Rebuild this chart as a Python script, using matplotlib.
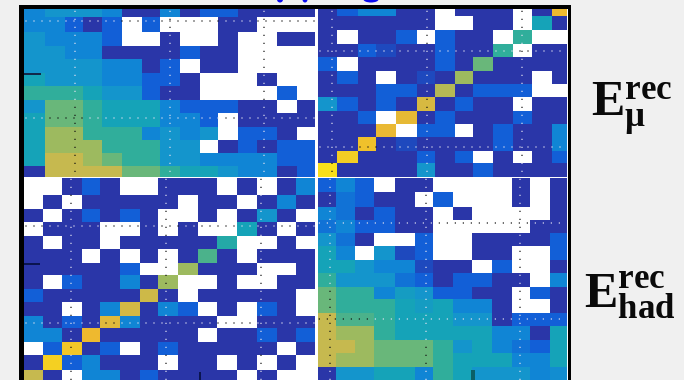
import numpy as np
import matplotlib
matplotlib.use("Agg")
import matplotlib.pyplot as plt
from matplotlib.colors import LinearSegmentedColormap
from matplotlib.patches import Rectangle, Ellipse

plt.rcParams["mathtext.fontset"] = "custom"
plt.rcParams["mathtext.bf"] = "Liberation Serif:bold"
plt.rcParams["mathtext.rm"] = "Liberation Serif:bold"
plt.rcParams["mathtext.it"] = "Liberation Serif:bold"

W, H = 684, 380
n = np.nan
top_left = [
 [2,3,3,3,2,0,0,2,0,1,1,0,0,0,0],
 [2,2,1,0,1,n,1,n,n,n,0,0,n,n,n],
 [3,2,2,2,1,n,n,0,n,n,0,n,n,0,0],
 [3,3,2,2,0,0,0,0,1,0,0,n,n,n,n],
 [3,3,3,3,2,2,0,1,n,0,0,n,n,n,n],
 [4,3,3,3,2,2,1,1,0,n,n,n,0,n,n],
 [5,5,5,4,3,3,1,0,0,n,n,n,n,1,n],
 [3,6,6,5,4,4,4,2,1,1,1,0,0,n,0],
 [4,6,6,5,4,4,4,2,2,1,n,0,0,0,0],
 [4,7,7,5,5,5,2,3,2,3,n,1,1,0,n],
 [4,7,7,7,5,5,5,3,3,n,0,1,0,1,1],
 [4,8,8,7,6,5,5,3,3,2,2,2,2,1,1],
 [0,8,8,8,8,6,6,5,4,4,3,2,2,0,1],
]
top_right = [
 [0,1,2,2,0,0,n,0,0,0,n,0,9],
 [0,0,0,0,0,0,n,n,0,0,n,4,0],
 [0,n,0,0,1,n,1,0,0,n,5,n,n],
 [0,0,1,.5,0,0,1,0,0,5,n,0,0],
 [1,n,0,0,0,0,1,0,6,0,0,0,0],
 [0,1,0,n,0,.5,0,7,0,0,0,n,0],
 [0,0,0,1,1,0,7.6,0,1,1,1,n,n],
 [3,1,0,1,0,8.4,0,1,0,0,n,0,0],
 [0,0,1,n,8.8,0,1,0,0,0,1,0,0],
 [0,0,0,8.9,n,1,1,n,0,1,0,0,2],
 [0,0,9.2,0,.5,0,0,0,0,1,0,0,2],
 [0,9.5,0,0,0,1,0,1,n,0,n,0,1],
 [10,0,0,0,0,3,0,0,1,0,0,0,0],
]
bottom_left = [
 [n,n,0,1,0,n,n,0,0,0,n,0,n,0,2],
 [n,0,n,0,0,0,0,0,n,0,0,n,0,2,0],
 [0,n,0,1,0,1,0,n,n,0,n,0,3,0,n],
 [n,0,0,0,n,n,0,n,0,n,n,4,0,n,0],
 [0,n,0,0,n,0,0,0,0,0,4.6,n,n,0,n],
 [0,0,0,n,0,n,0,n,0,5.5,0,n,0,0,0],
 [0,0,0,0,0,1,n,n,7,0,0,0,n,n,0],
 [0,n,1,0,0,2,0,7,n,n,0,n,n,0,0],
 [1,0,0,0,0,0,8.2,0,n,0,0,0,0,0,n],
 [0,0,n,0,2,8.3,0,2,1,n,0,n,1,0,n],
 [2,0,1,0,8.6,2,0,0,0,0,n,n,0,0,0],
 [2,2,0,9,0,0,0,0,0,n,0,0,1,0,1],
 [n,1,9.3,0,1,n,0,1,0,0,0,0,0,n,0],
 [0,9.6,1,2,0,0,0,n,0,0,n,0,n,0,n],
 [8,0,n,2,2,0,1,0,0,0,0,n,0,n,n],
]
bottom_right = [
 [1,2,1,n,0,0,n,n,n,n,0,n,0],
 [0,1.5,1,0,0,n,1,n,n,n,0,n,0],
 [2,1.5,0,1,0,0,n,0,n,n,n,n,0],
 [1.5,2,1,1,0,0,n,n,n,n,n,0,0],
 [3,1.5,0,n,n,1,n,n,0,0,0,0,1],
 [4,2,n,3,.5,1,n,n,0,0,n,n,1],
 [4,4,3,2,2,.5,0,0,n,1,n,n,0],
 [5,3,3,3,1.5,1,0,1,1,0,0,n,2],
 [6,5,5,2,3.5,3,1,1,0,0,n,1,0],
 [6,5,5,5,4,3.5,4,2,2,0,n,n,0],
 [8,5.5,5.5,5,4,4,4,3,3,0,1,1,1],
 [8,7,7,5,4,4,4,4,4,2,2,0,4],
 [8,8,7,6,6,6,5,3,4,2,1.5,1,4],
 [8,7,7,6,6,6,5,4,4,4,2,2,4],
 [0,3,3,4,4,2,5,4,3,3,3,2,2.5],
]
row_labels = [r"$\mathbf{E}^{\mathbf{rec}}_{\mathbf{μ}}$", r"$\mathbf{E}^{\mathbf{rec}}_{\mathbf{had}}$"]

# cell edges of each panel, in reference pixels
def ex(v, o=0): return o + np.array(v, float) / 3
tl_x = ex([72,135,195,250,305,365,425,480,540,600,655,715,770,830,890,945])
tl_y = ex([28,52,95,137,178,220,257,300,340,380,420,460,497,530])
tr_x = ex([24,82,143,198,258,320,375,435,490,550,610,665,725,770], 310)
tr_y = ex([28,48,90,133,170,212,252,292,332,372,412,452,490,530])
bl_x = ex([72,128,185,245,300,360,420,475,535,595,650,712,770,830,888,945])
bl_y = ex([22,75,118,157,198,237,280,315,358,395,438,475,515,555,600,630], 170)
br_x = ex([22,78,135,192,255,315,368,430,485,545,605,660,720,770], 310)
br_y = ex([22,65,110,150,188,228,270,308,350,388,428,468,510,550,590,630], 170)

levels = ["#2a36a8", "#1260d8", "#1085d5", "#1596cc", "#15a3b8", "#2fae9c",
          "#6ab77a", "#9dbb60", "#c6b94f", "#eeb930", "#f9e01a"]
cmap = LinearSegmentedColormap.from_list("p", levels)

fig = plt.figure(figsize=(W/100, H/100), dpi=100, facecolor="#f0f0f0")
ax = fig.add_axes([0, 0, 1, 1])
ax.set_xlim(0, W); ax.set_ylim(H, 0); ax.axis("off")

ax.add_patch(Rectangle((19, 5), 552, 380, fc="white", ec="none", zorder=0))

def panel(data, xe, ye, vx, hy):
    d = np.array(data, float)
    rgb = cmap(d / 10.0)[..., :3]
    rgb[np.isnan(d)] = 1.0
    x0, x1, y0, y1 = xe[0], xe[-1], ye[0], ye[-1]
    px = np.arange(np.floor(x0), np.ceil(x1)) + 0.5
    py = np.arange(np.floor(y0), np.ceil(y1)) + 0.5
    ci = np.clip(np.searchsorted(xe, px) - 1, 0, d.shape[1]-1)
    ri = np.clip(np.searchsorted(ye, py) - 1, 0, d.shape[0]-1)
    ax.imshow(rgb[np.ix_(ri, ci)], interpolation="bilinear", aspect="auto", zorder=1,
              extent=(np.floor(x0), np.ceil(x1), np.ceil(y1), np.floor(y0)))
    def dots(xs, ys):
        c = np.clip(np.searchsorted(xe, xs) - 1, 0, d.shape[1]-1)
        r = np.clip(np.searchsorted(ye, ys) - 1, 0, d.shape[0]-1)
        v = d[r, c]
        col = ["#111111" if (np.isnan(t) or t > 5) else "#dfe0f0" for t in v]
        ax.scatter(xs, ys, s=1.0, c=col, linewidths=0, zorder=2)
    for x in vx:
        ys = np.arange(y0 + 2, y1, 8.0)
        dots(np.full_like(ys, x), ys)
    for y in hy:
        xs = np.arange(x0 + 2, x1, 8.0)
        dots(xs, np.full_like(xs, y))

panel(top_left, tl_x, tl_y, [75, 170, 264], [21, 118])
panel(top_right, tr_x, tr_y, [332, 427, 522], [51, 147])
panel(bottom_left, bl_x, bl_y, [71, 166, 261], [226, 323])
panel(bottom_right, br_x, br_y, [330, 426, 520], [223, 319])
ax.set_xlim(0, W); ax.set_ylim(H, 0)

# white gutters and the black frame
ax.add_patch(Rectangle((24, 176.8), 544, 1.4, fc="white", ec="none", zorder=3))
ax.add_patch(Rectangle((315.2, 9), 2.5, 372, fc="white", ec="none", zorder=3))
for r in [(19, 5, 4.5, 380), (19, 5, 552, 4), (568, 5, 3, 380)]:
    ax.add_patch(Rectangle(r[:2], r[2], r[3], fc="black", ec="none", zorder=5))
for r in [(24, 72.5, 17, 2.5, "#12284a"), (24, 262.5, 16, 2.5, "#0a1450"),
          (198.5, 372, 2, 8, "#0a1450"), (471, 370, 4, 10, "#0b5f66")]:
    ax.add_patch(Rectangle(r[:2], r[2], r[3], fc=r[4], ec="none", zorder=4))
# fragments of a cropped blue heading at the very top edge
for cx, w in [(280, 6), (305, 5), (371, 15)]:
    ax.add_patch(Ellipse((cx, -0.5), w, 6, fc="#0a0af0", ec="none", zorder=4))

kw = dict(color="#0a0a0a", va="baseline", ha="left", zorder=6)
ax.text(591, 115, row_labels[0], fontsize=36, **kw)
ax.text(584, 307, row_labels[1], fontsize=36, **kw)

fig.savefig("out.png", dpi=100, facecolor=fig.get_facecolor())
